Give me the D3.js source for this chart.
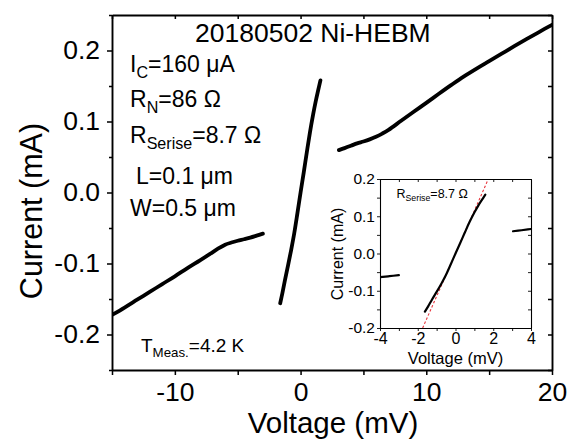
<!DOCTYPE html>
<html>
<head>
<meta charset="utf-8">
<script src="https://cdn.jsdelivr.net/npm/d3@7"></script>
<style>
  body { margin: 0; background: #fff; }
  svg { display: block; }
  text { font-family: "Liberation Sans", Arial, sans-serif; fill: #000; }
</style>
</head>
<body>
<svg id="chart" width="568" height="439"></svg>
<script>
// I–V branches of the junction (voltage in mV, current in mA)
const leftV  = [-15, -14, -13, -12, -11, -10, -9, -8, -7.2, -6.6, -6.0, -5.5, -5.0, -4.5, -4.0, -3.5, -3.0];
const leftI  = [-0.1725, -0.162, -0.151, -0.140, -0.129, -0.118, -0.1065, -0.0955, -0.0865, -0.0795, -0.0735, -0.0705, -0.068, -0.0658, -0.0635, -0.0608, -0.058];
const centerV = [-1.62, -1.45, -1.25, -1.0, -0.75, -0.5, -0.25, 0, 0.25, 0.5, 0.75, 1.0, 1.2, 1.4, 1.58];
const centerI = [-0.156, -0.142, -0.124, -0.103, -0.081, -0.057, -0.029, 0.0, 0.028, 0.057, 0.085, 0.110, 0.128, 0.144, 0.158];
const rightV = [3.05, 3.5, 4.0, 4.5, 5.0, 5.5, 6.0, 6.5, 7.0, 8, 9, 10, 11, 12, 13, 14, 15, 16, 17, 18, 19, 20];
const rightI = [0.0597, 0.0625, 0.0658, 0.0692, 0.0718, 0.0748, 0.0785, 0.0830, 0.0882, 0.1010, 0.1137, 0.1262, 0.1390, 0.1515, 0.1635, 0.1745, 0.1850, 0.1955, 0.2060, 0.2163, 0.2263, 0.2362];

// series resistance of the fitted line (ohm)
const seriesR = 8.7;

// main axes ticks
const xMajor = [-10, 0, 10, 20];
const xAll = [-15, -10, -5, 0, 5, 10, 15, 20];
const yMajor = [-0.2, -0.1, 0.0, 0.1, 0.2];
const yAll = [-0.25, -0.2, -0.15, -0.1, -0.05, 0, 0.05, 0.1, 0.15, 0.2, 0.25];

// inset ticks
const ixMajor = [-4, -2, 0, 2, 4];
const ixAll = [-4, -3, -2, -1, 0, 1, 2, 3, 4];
const iyMajor = [-0.2, -0.1, 0.0, 0.1, 0.2];
const iyAll = [-0.2, -0.15, -0.1, -0.05, 0, 0.05, 0.1, 0.15, 0.2];

const toPts = (vs, is) => vs.map((v, k) => [v, is[k]]);
const branches = [toPts(leftV, leftI), toPts(centerV, centerI), toPts(rightV, rightI)];

const svg = d3.select("#chart");
svg.append("rect").attr("width", 568).attr("height", 439).attr("fill", "#fff");

const near = (a, b) => Math.abs(a - b) < 1e-9;
const isIn = (arr, d) => arr.some(m => near(m, d));
const fmt1 = d => (Math.abs(d) < 1e-9 ? 0 : d).toFixed(1);
const FONT = "Liberation Sans, Arial, sans-serif";

// ---------- main panel ----------
const L = 112, R = 552, T = 15, B = 370;
const x = d3.scaleLinear().domain([-15, 20]).range([L, R]);
const y = d3.scaleLinear().domain([-0.25, 0.25]).range([B, T]);

svg.append("clipPath").attr("id", "mainClip")
  .append("rect").attr("x", L).attr("y", T).attr("width", R - L).attr("height", B - T);

const line = d3.line().x(d => x(d[0])).y(d => y(d[1])).curve(d3.curveCatmullRom);
const gData = svg.append("g").attr("clip-path", "url(#mainClip)");
branches.forEach(b => {
  gData.append("path").attr("d", line(b))
    .attr("fill", "none").attr("stroke", "#000")
    .attr("stroke-width", 3.8).attr("stroke-linecap", "round").attr("stroke-linejoin", "round");
});

function styleAxis(g, w) {
  g.select(".domain").attr("stroke", "#000").attr("stroke-width", w);
  g.selectAll(".tick line").attr("stroke", "#000").attr("stroke-width", w * 0.8);
}

const gxB = svg.append("g").attr("transform", `translate(0,${B})`)
  .call(d3.axisBottom(x).tickValues(xAll).tickSize(5).tickSizeOuter(0).tickPadding(7)
    .tickFormat(d => isIn(xMajor, d) ? String(d) : ""));
gxB.selectAll("text").attr("font-size", 26.5).attr("font-family", FONT);
styleAxis(gxB, 1.9);

const gxT = svg.append("g").attr("transform", `translate(0,${T})`)
  .call(d3.axisTop(x).tickValues(xAll).tickSize(-4).tickSizeOuter(0).tickFormat(""));
styleAxis(gxT, 1.9);

const gyL = svg.append("g").attr("transform", `translate(${L},0)`)
  .call(d3.axisLeft(y).tickValues(yAll).tickSize(5).tickSizeOuter(0).tickPadding(7)
    .tickFormat(d => isIn(yMajor, d) ? fmt1(d) : ""));
gyL.selectAll("text").attr("font-size", 26.5).attr("font-family", FONT);
gyL.selectAll(".tick").filter(d => !isIn(yMajor, d)).select("line").attr("x2", -3);
styleAxis(gyL, 1.9);

const gyR = svg.append("g").attr("transform", `translate(${R},0)`)
  .call(d3.axisRight(y).tickValues(yAll).tickSize(-4).tickSizeOuter(0).tickFormat(""));
styleAxis(gyR, 1.9);

// axis titles
svg.append("text").attr("x", (L + R) / 2 + 1).attr("y", 433)
  .attr("text-anchor", "middle").attr("font-size", 29.5).text("Voltage (mV)");
svg.append("text").attr("transform", "translate(41.5,211) rotate(-90)")
  .attr("text-anchor", "middle").attr("font-size", 30.5).text("Current (mA)");

// title and sample parameters
svg.append("text").attr("x", 195).attr("y", 41.5).attr("font-size", 26.5).text("20180502 Ni-HEBM");

function subLabel(xp, yp, fs, parts) {
  const t = svg.append("text").attr("x", xp).attr("y", yp).attr("font-size", fs);
  let shifted = 0;
  parts.forEach(p => {
    const sub = p.sub === true;
    const dy = sub ? fs * 0.27 - shifted : -shifted;
    shifted = sub ? fs * 0.27 : 0;
    t.append("tspan").attr("dy", dy).attr("font-size", sub ? fs * 0.7 : fs).text(p.t);
  });
  return t;
}

subLabel(130, 71.5, 23, [{t: "I"}, {t: "C", sub: true}, {t: "=160 \u03BCA"}]);
subLabel(130, 106.5, 23, [{t: "R"}, {t: "N", sub: true}, {t: "=86 \u03A9"}]);
subLabel(130, 143, 23, [{t: "R"}, {t: "Serise", sub: true}, {t: "=8.7 \u03A9"}]);
subLabel(136, 184, 23, [{t: "L=0.1 \u03BCm"}]);
subLabel(130, 216, 23, [{t: "W=0.5 \u03BCm"}]);
subLabel(141, 352, 19, [{t: "T"}, {t: "Meas.", sub: true}, {t: "=4.2 K"}]);

// ---------- inset ----------
const iL = 380, iR = 531, iT = 179, iB = 328;
const ix = d3.scaleLinear().domain([-4, 4]).range([iL, iR]);
const iy = d3.scaleLinear().domain([-0.2, 0.2]).range([iB, iT]);

svg.append("rect").attr("x", iL).attr("y", iT).attr("width", iR - iL).attr("height", iB - iT).attr("fill", "#fff");
svg.append("clipPath").attr("id", "insetClip")
  .append("rect").attr("x", iL).attr("y", iT).attr("width", iR - iL).attr("height", iB - iT);

const iline = d3.line().x(d => ix(d[0])).y(d => iy(d[1])).curve(d3.curveCatmullRom);
const giData = svg.append("g").attr("clip-path", "url(#insetClip)");

// linear fit through the supercurrent branch, slope 1/R
const fitI = [-0.2, 0.2];
const fitPts = fitI.map(i => [i * seriesR, i]);
giData.append("path").attr("d", d3.line().x(d => ix(d[0])).y(d => iy(d[1]))(fitPts))
  .attr("fill", "none").attr("stroke", "#e8333a").attr("stroke-width", 1.1)
  .attr("stroke-dasharray", "2.5,2");

branches.forEach(b => {
  giData.append("path").attr("d", iline(b))
    .attr("fill", "none").attr("stroke", "#000")
    .attr("stroke-width", 2.2).attr("stroke-linecap", "round");
});

const ixB = svg.append("g").attr("transform", `translate(0,${iB})`)
  .call(d3.axisBottom(ix).tickValues(ixAll).tickSize(3).tickSizeOuter(0).tickPadding(2)
    .tickFormat(d => isIn(ixMajor, d) ? String(d) : ""));
ixB.selectAll("text").attr("font-size", 16).attr("font-family", FONT);
styleAxis(ixB, 1.1);

const ixT = svg.append("g").attr("transform", `translate(0,${iT})`)
  .call(d3.axisTop(ix).tickValues(ixAll).tickSize(-3).tickSizeOuter(0).tickFormat(""));
styleAxis(ixT, 1.1);

const iyL = svg.append("g").attr("transform", `translate(${iL},0)`)
  .call(d3.axisLeft(iy).tickValues(iyAll).tickSize(3).tickSizeOuter(0).tickPadding(2)
    .tickFormat(d => isIn(iyMajor, d) ? fmt1(d) : ""));
iyL.selectAll("text").attr("font-size", 15.5).attr("font-family", FONT);
styleAxis(iyL, 1.1);

const iyR = svg.append("g").attr("transform", `translate(${iR},0)`)
  .call(d3.axisRight(iy).tickValues(iyAll).tickSize(-3).tickSizeOuter(0).tickFormat(""));
styleAxis(iyR, 1.1);

svg.append("text").attr("x", (iL + iR) / 2).attr("y", 364)
  .attr("text-anchor", "middle").attr("font-size", 16.5).text("Voltage (mV)");
svg.append("text").attr("transform", "translate(343,254) rotate(-90)")
  .attr("text-anchor", "middle").attr("font-size", 16).text("Current (mA)");

subLabel(396.5, 198, 12.5, [{t: "R"}, {t: "Serise", sub: true}, {t: "=8.7 \u03A9"}]).attr("fill", "#222");
</script>
</body>
</html>
